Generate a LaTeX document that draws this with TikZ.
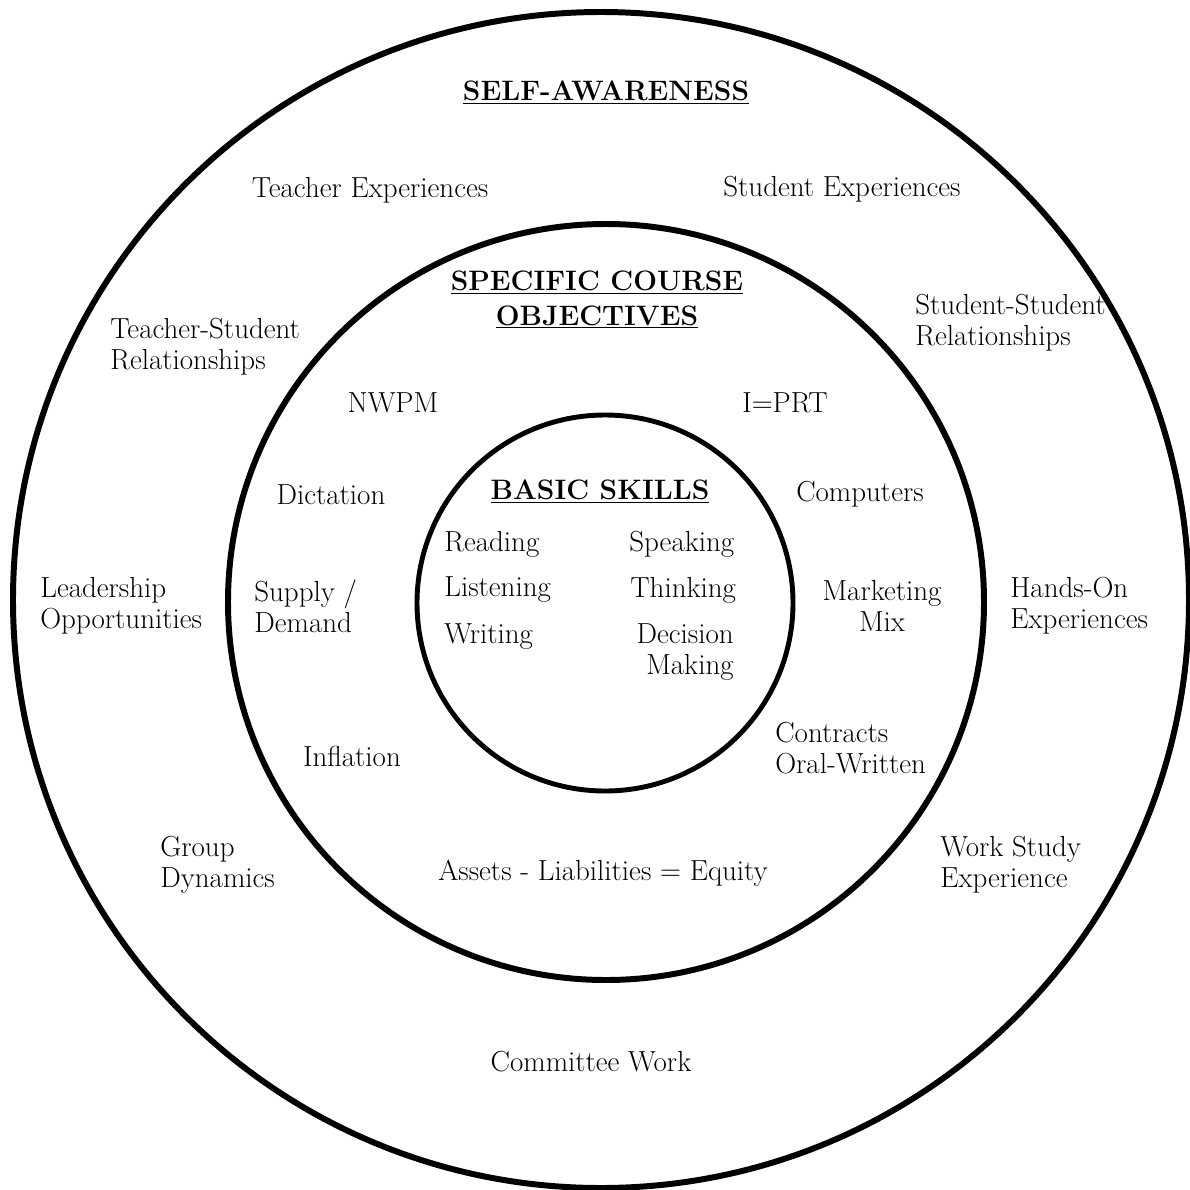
\documentclass[tikz,border=0pt]{standalone}
\usepackage{fontspec}
\usetikzlibrary{positioning}
\begin{document}
\begin{tikzpicture}[x=0.02cm, y=-0.02cm,
    every node/.style={font=\fontsize{16.5}{17.6}\selectfont, inner sep=0pt},
    ring/.style={draw, line width=3.4pt},
    head/.style={align=center, font=\fontsize{16}{19.5}\selectfont\bfseries},
    item/.style={align=center},
    itemL/.style={align=left, anchor=west}
]
    \useasboundingbox (0,0) rectangle (1190,1190);

    % Rings
    \draw[ring] (601,600) circle[radius=588];
    \draw[ring] (606,602) circle[radius=378];
    \draw[ring, line width=2.8pt] (605,603) circle[radius=188];

    % Outer ring
    \node[head] (selfaw) at (606,93) {\underline{SELF-AWARENESS}};
    \node (teachexp) at (370,190) {Teacher Experiences};
    \node (studexp) at (842,189) {Student Experiences};
    \node[itemL] (tsrel) at (110,347) {Teacher-Student\\Relationships};
    \node[itemL] (ssrel) at (915,323) {Student-Student\\Relationships};
    \node[itemL] (lead) at (40,606) {Leadership\\Opportunities};
    \node[itemL] (hands) at (1010,606) {Hands-On\\Experiences};
    \node[itemL] (group) at (160,865) {Group\\Dynamics};
    \node[itemL] (work) at (940,865) {Work Study\\Experience};
    \node (committee) at (591,1062) {Committee Work};

    % Middle ring
    \node[head] (course) at (597,300) {\underline{SPECIFIC COURSE}\\\underline{OBJECTIVES}};
    \node (nwpm) at (393,403) {NWPM};
    \node (iprt) at (785,403) {I=PRT};
    \node (dict) at (331,495) {Dictation};
    \node (comp) at (860,494) {Computers};
    \node[itemL] (supply) at (254,606) {Supply /\\Demand};
    \node[item] (mix) at (882,606) {Marketing\\Mix};
    \node[itemL] (contract) at (775,748) {Contracts\\Oral-Written};
    \node (infl) at (352,756) {Inflation};
    \node (assets) at (603,873) {Assets - Liabilities = Equity};

    % Inner circle
    \node[head] (basic) at (600,492) {\underline{BASIC SKILLS}};
    \node[anchor=west] (read) at (444,544) {Reading};
    \node[anchor=west] (speak) at (629,544) {Speaking};
    \node[anchor=west] (listen) at (444,590) {Listening};
    \node[anchor=west] (think) at (630,590) {Thinking};
    \node[anchor=west] (write) at (444,637) {Writing};
    \node[align=right, anchor=east] (decide) at (734,652) {Decision\\Making};
\end{tikzpicture}
\end{document}
